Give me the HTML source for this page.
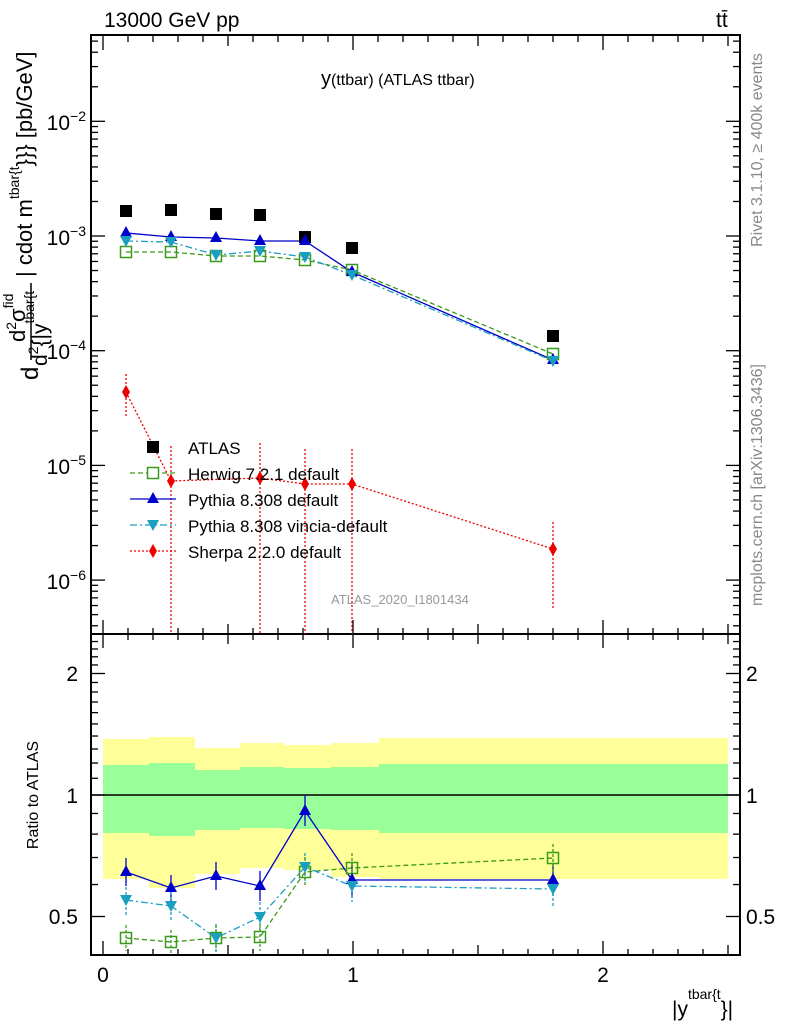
<!DOCTYPE html>
<html><head><meta charset="utf-8"><style>
html,body{margin:0;padding:0;background:#fff;}
svg{display:block;font-family:"Liberation Sans",sans-serif;}
</style></head><body>
<svg id="s" width="786" height="1024" viewBox="0 0 786 1024" xmlns="http://www.w3.org/2000/svg">
<rect width="786" height="1024" fill="#fff"/>
<g stroke="none">
<path fill="#ffff99" d="M103,739H149V737H195V748H240V743H284V745H331V743H379V738H728V879H379V877H331V870H284V868H240V874H195V888H149V879H103Z"/>
<path fill="#99ff99" d="M103,765H149V763H195V770H240V767H284V768H331V767H379V764H728V833H379V830H331V829H284V828H240V830H195V836H149V833H103Z"/>
</g>
<line x1="91" y1="795" x2="740" y2="795" stroke="#000" stroke-width="1.5"/>
<g id="ticks" stroke="#000" stroke-width="1.3"></g>
<rect x="91" y="35" width="649" height="599" fill="none" stroke="#000" stroke-width="2"/>
<rect x="91" y="634" width="649" height="321" fill="none" stroke="#000" stroke-width="2"/>

<g fill="none" stroke-width="1.3">
<polyline stroke="#e00" stroke-dasharray="2,2" points="126,392 171,481 260,478 305,484 352,484 553,549"/>
<g stroke="#e00" stroke-dasharray="2,2">
<line x1="126" y1="374" x2="126" y2="418"/><line x1="171" y1="446" x2="171" y2="634"/><line x1="260" y1="443" x2="260" y2="634"/><line x1="305" y1="449" x2="305" y2="634"/><line x1="352" y1="449" x2="352" y2="634"/><line x1="553" y1="522" x2="553" y2="610"/>
</g>
<polyline stroke="#3a9a1a" stroke-dasharray="5,3" points="126,252 171,252 216,256 260,256 305,260 352,270 553,354"/>
<polyline stroke="#00c" points="126,233 171,237 216,238 260,241 305,241 352,272 553,360"/>
<polyline stroke="#1a9fc0" stroke-dasharray="7,3,2,3" points="126,241 171,242 216,255 260,251 305,257 352,275 553,361"/>
</g>
<g fill="#000">
<rect x="120" y="205" width="12" height="12"/><rect x="165" y="204" width="12" height="12"/><rect x="210" y="208" width="12" height="12"/><rect x="254" y="209" width="12" height="12"/><rect x="299" y="231" width="12" height="12"/><rect x="346" y="242" width="12" height="12"/><rect x="547" y="330" width="12" height="12"/>
</g>
<g fill="none" stroke="#3a9a1a" stroke-width="1.5">
<rect x="120.5" y="246.5" width="11" height="11"/><rect x="165.5" y="246.5" width="11" height="11"/><rect x="210.5" y="250.5" width="11" height="11"/><rect x="254.5" y="250.5" width="11" height="11"/><rect x="299.5" y="254.5" width="11" height="11"/><rect x="346.5" y="264.5" width="11" height="11"/><rect x="547.5" y="348.5" width="11" height="11"/>
</g>
<g fill="#00c" id="ptri"></g>
<g fill="#1a9fc0" id="vtri"></g>
<g fill="#e00" id="diam"></g>

<g fill="none" stroke-width="1.3">
<polyline stroke="#3a9a1a" stroke-dasharray="5,3" points="126,938 171,942 216,938 260,937 305,872 352,868 553,858"/>
<polyline stroke="#00c" points="126,872 171,888 216,876 260,886 305,811 352,880 553,880"/>
<polyline stroke="#1a9fc0" stroke-dasharray="7,3,2,3" points="126,900 171,906 216,938 260,917 305,867 352,886 553,889"/>
<g stroke="#00c"><line x1="126" y1="858" x2="126" y2="886"/><line x1="171" y1="875" x2="171" y2="902"/><line x1="216" y1="862" x2="216" y2="890"/><line x1="260" y1="871" x2="260" y2="901"/><line x1="305" y1="795" x2="305" y2="826"/><line x1="352" y1="862" x2="352" y2="898"/><line x1="553" y1="864" x2="553" y2="896"/></g>
<g stroke="#1a9fc0" stroke-dasharray="3,2"><line x1="126" y1="887" x2="126" y2="915"/><line x1="171" y1="892" x2="171" y2="920"/><line x1="216" y1="924" x2="216" y2="952"/><line x1="260" y1="902" x2="260" y2="932"/><line x1="305" y1="853" x2="305" y2="881"/><line x1="352" y1="870" x2="352" y2="902"/><line x1="553" y1="873" x2="553" y2="906"/></g>
<g stroke="#3a9a1a" stroke-dasharray="3,2"><line x1="126" y1="925" x2="126" y2="951"/><line x1="171" y1="930" x2="171" y2="953"/><line x1="216" y1="925" x2="216" y2="951"/><line x1="260" y1="924" x2="260" y2="951"/><line x1="305" y1="857" x2="305" y2="887"/><line x1="352" y1="853" x2="352" y2="883"/><line x1="553" y1="844" x2="553" y2="872"/></g>
</g>
<g fill="none" stroke="#3a9a1a" stroke-width="1.5">
<rect x="120.5" y="932.5" width="11" height="11"/><rect x="165.5" y="936.5" width="11" height="11"/><rect x="210.5" y="932.5" width="11" height="11"/><rect x="254.5" y="931.5" width="11" height="11"/><rect x="299.5" y="866.5" width="11" height="11"/><rect x="346.5" y="862.5" width="11" height="11"/><rect x="547.5" y="852.5" width="11" height="11"/>
</g>
<g fill="#00c" id="rptri"></g>
<g fill="#1a9fc0" id="rvtri"></g>

<rect x="147" y="441" width="12" height="12" fill="#000"/>
<line x1="130" y1="473" x2="176" y2="473" stroke="#3a9a1a" stroke-dasharray="5,3" stroke-width="1.3"/>
<rect x="147.5" y="467.5" width="11" height="11" fill="#fff" stroke="#3a9a1a" stroke-width="1.5"/>
<line x1="130" y1="499" x2="176" y2="499" stroke="#00c" stroke-width="1.3"/>
<path d="M153,492 L159,503 L147,503Z" fill="#00c"/>
<line x1="130" y1="525" x2="176" y2="525" stroke="#1a9fc0" stroke-dasharray="7,3,2,3" stroke-width="1.3"/>
<path d="M147,520 L159,520 L153,531Z" fill="#1a9fc0"/>
<line x1="130" y1="551" x2="176" y2="551" stroke="#e00" stroke-dasharray="2,2" stroke-width="1.3"/>
<path d="M153,544 L157,551 L153,558 L149,551Z" fill="#e00"/>
<g font-size="17" fill="#000">
<text x="188" y="454">ATLAS</text>
<text x="188" y="480">Herwig 7.2.1 default</text>
<text x="188" y="506">Pythia 8.308 default</text>
<text x="188" y="532">Pythia 8.308 vincia-default</text>
<text x="188" y="558">Sherpa 2.2.0 default</text>
</g>
<text x="331" y="604" font-size="13" fill="#999">ATLAS_2020_I1801434</text>

<text x="104" y="27" font-size="21">13000 GeV pp</text>
<text x="716" y="27" font-size="21">tt̄</text>
<text x="321" y="85" font-size="20">y<tspan font-size="16">(ttbar) (ATLAS ttbar)</tspan></text>
<g font-size="21" text-anchor="end">
<text x="86" y="130">10<tspan font-size="14" dy="-9">−2</tspan></text>
<text x="86" y="245">10<tspan font-size="14" dy="-9">−3</tspan></text>
<text x="86" y="359">10<tspan font-size="14" dy="-9">−4</tspan></text>
<text x="86" y="474">10<tspan font-size="14" dy="-9">−5</tspan></text>
<text x="86" y="589">10<tspan font-size="14" dy="-9">−6</tspan></text>
</g>
<g font-size="21">
<text x="78" y="681" text-anchor="end">2</text><text x="78" y="803" text-anchor="end">1</text><text x="78" y="924" text-anchor="end">0.5</text>
<text x="746" y="681">2</text><text x="746" y="803">1</text><text x="746" y="924">0.5</text>
<text x="103" y="982" text-anchor="middle">0</text><text x="353" y="982" text-anchor="middle">1</text><text x="603" y="982" text-anchor="middle">2</text>
</g>
<text x="672" y="1016" font-size="21">|y<tspan font-size="14" dy="-17">tbar{t</tspan><tspan font-size="21" dy="17">}|</tspan></text>
<text transform="translate(38,795) rotate(-90)" font-size="16" text-anchor="middle">Ratio to ATLAS</text>
<text transform="translate(38,380) rotate(-90)" font-size="24">d</text>
<text transform="translate(25,342) rotate(-90)" font-size="22">d<tspan font-size="14" dy="-9">2</tspan><tspan dy="9">σ</tspan><tspan font-size="14" dy="-12">fid</tspan></text>
<line x1="31" y1="360" x2="31" y2="283" stroke="#000" stroke-width="1.5"/>
<text transform="translate(47,366) rotate(-90)" font-size="21">d<tspan font-size="14" dy="-9">2</tspan><tspan dy="9">{|y</tspan><tspan font-size="14" dy="-13">tbar{t</tspan></text>
<text transform="translate(32,277) rotate(-90)" font-size="22">| cdot m<tspan font-size="14" dy="-13">tbar{t</tspan><tspan dy="13">}}} [pb/GeV]</tspan></text>
<text transform="translate(762,150) rotate(-90)" font-size="16" fill="#888" text-anchor="middle">Rivet 3.1.10, ≥ 400k events</text>
<text transform="translate(762,485) rotate(-90)" font-size="16" fill="#888" text-anchor="middle">mcplots.cern.ch [arXiv:1306.3436]</text>
</svg>
<script>
var NS="http://www.w3.org/2000/svg";
function el(p,t,a){var e=document.createElementNS(NS,t);for(var k in a)e.setAttribute(k,a[k]);p.appendChild(e);return e;}
var T=document.getElementById("ticks");
function hl(y,len){el(T,"line",{x1:91,y1:y,x2:91+len,y2:y});el(T,"line",{x1:740,y1:y,x2:740-len,y2:y});}
for(var d=-7;d<=-1;d++){for(var m=1;m<10;m++){var v=Math.log10(m)+d;var y=236-114.7*(v+3);if(y<36||y>633)continue;hl(y,m==1?14:7);}}
for(var r=4;r<=25;r++){var val=r/10;var y=795-121.5*Math.log2(val);if(y<635||y>954)continue;var maj=(r==5||r==10||r==20);hl(y,maj?14:7);}
for(var i=0;i<=25;i++){var x=103+25*i;var len=(i%10==0)?14:(i%5==0?10:6);
 el(T,"line",{x1:x,y1:634,x2:x,y2:634-len});el(T,"line",{x1:x,y1:36,x2:x,y2:36+len});
 el(T,"line",{x1:x,y1:955,x2:x,y2:955-len});el(T,"line",{x1:x,y1:634,x2:x,y2:634+len});}
var xs=[126,171,216,260,305,352,553];
function up(g,x,y){el(g,"path",{d:"M"+x+","+(y-7)+" L"+(x+6)+","+(y+4)+" L"+(x-6)+","+(y+4)+"Z"});}
function dn(g,x,y){el(g,"path",{d:"M"+(x-6)+","+(y-5)+" L"+(x+6)+","+(y-5)+" L"+x+","+(y+6)+"Z"});}
var P=[233,237,238,241,241,272,360],V=[241,242,255,251,257,275,361];
var RP=[872,888,876,886,811,880,880],RV=[900,906,938,917,867,886,889];
var g1=document.getElementById("ptri"),g2=document.getElementById("vtri"),g3=document.getElementById("rptri"),g4=document.getElementById("rvtri");
for(var i=0;i<7;i++){up(g1,xs[i],P[i]);dn(g2,xs[i],V[i]);up(g3,xs[i],RP[i]);dn(g4,xs[i],RV[i]);}
var D=document.getElementById("diam");[[126,392],[171,481],[260,478],[305,484],[352,484],[553,549]].forEach(function(p){el(D,"path",{d:"M"+p[0]+","+(p[1]-7)+" L"+(p[0]+4)+","+p[1]+" L"+p[0]+","+(p[1]+7)+" L"+(p[0]-4)+","+p[1]+"Z"});});
</script>
</body></html>
